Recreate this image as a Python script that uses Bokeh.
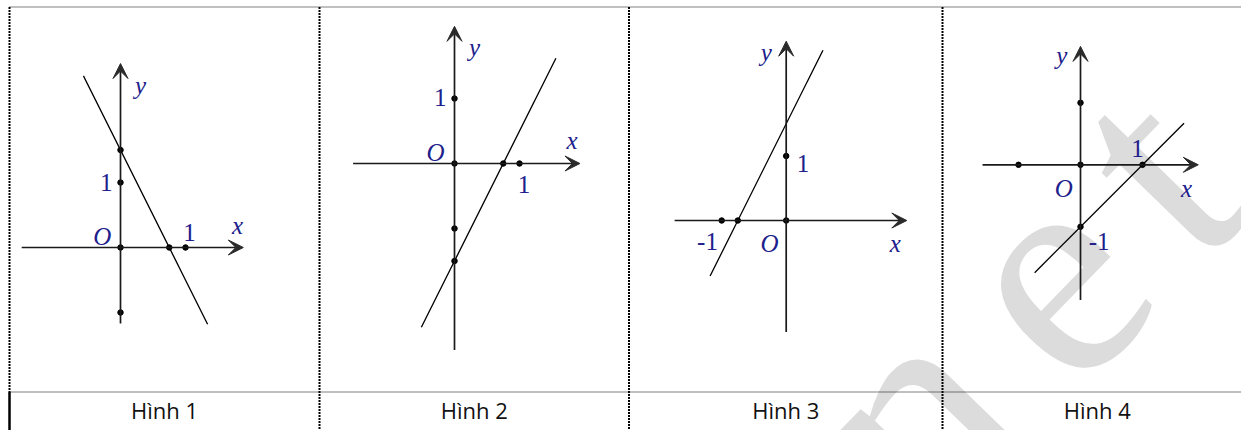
import numpy as np
from bokeh.plotting import figure
from bokeh.models import Range1d, ColumnDataSource, Arrow, VeeHead
from bokeh.core.properties import value
from bokeh.embed import file_html
from bokeh.resources import INLINE

# ---------------- data (math values) ----------------
captions = ["Hình 1", "Hình 2", "Hình 3", "Hình 4"]

slopes = [-2.0, 2.0, 2.0, 1.0]
intercepts = [1.5, -1.5, 1.5, -1.0]
line_x_from = [-0.57, -0.51, -1.18, -0.74]
line_x_to = [1.34, 1.56, 0.57, 1.67]

axis_x_min = [-1.52, -1.56, -1.73, -1.58]
axis_x_max = [1.89, 1.93, 1.87, 1.90]
axis_y_min = [-1.17, -2.87, -1.73, -2.18]
axis_y_max = [2.83, 2.11, 2.78, 1.91]

dots_x = [[0, 0, 0, 0, 0.75, 1], [0, 0, 0, 0, 0.75, 1], [0, 0, -1, -0.75], [0, 0, -1, 1, 0]]
dots_y = [[0, 1, 1.5, -1, 0, 0], [0, 1, -1, -1.5, 0, 0], [0, 1, 0, 0], [0, 1, 0, 0, -1]]

letter_labels = [
    [("y", 0.31, 2.49), ("x", 1.80, 0.34), ("O", -0.28, 0.17)],
    [("y", 0.31, 1.79), ("x", 1.81, 0.35), ("O", -0.29, 0.17)],
    [("y", -0.31, 2.61), ("x", 1.69, -0.36), ("O", -0.26, -0.35)],
    [("y", -0.30, 1.76), ("x", 1.71, -0.38), ("O", -0.27, -0.38)],
]
number_labels = [
    [("1", -0.22, 1.0), ("1", 1.06, 0.23)],
    [("1", -0.22, 1.02), ("1", 1.07, -0.32)],
    [("1", 0.26, 0.88), ("-1", -1.22, -0.32)],
    [("1", 0.92, 0.26), ("-1", 0.30, -1.23)],
]

# watermark letters (page pixels)
wm_letters = ["n", "e", "t"]
wm_x = [962, 1048, 1152]
wm_y = [358, 277, 166]
wm_align = ["right", "center", "center"]

# ---------------- layout (page pixels) ----------------
W, H = 1241, 430
origins_px = [(120, 247), (454, 163), (785.7, 220), (1080, 164.3)]
units_px = [65, 65, 64.5, 62]
cell_edges = [9, 319, 628.5, 942, 1251.5]
caption_y = 409
divider_y = 391.5
top_y = 6.5

LABEL_COLOR = "#20208c"

p = figure(width=W, height=H, output_backend="svg", toolbar_location=None,
           x_range=Range1d(0, W), y_range=Range1d(H, 0),
           x_axis_type=None, y_axis_type=None, min_border=0,
           outline_line_color=None, background_fill_color="white")

# watermark
p.text(x=wm_x, y=wm_y, text=wm_letters, angle=0.8, text_align=wm_align,
       text_font=value("Liberation Serif"), text_font_size="310px",
       text_color="#dcdcdc", text_baseline="middle")

# table borders
vx = cell_edges[1:4]
p.segment(x0=vx, y0=[top_y] * len(vx), x1=vx, y1=[H] * len(vx),
          line_color="#000000", line_width=2, line_dash="2 1")
p.segment(x0=[cell_edges[0]], y0=[top_y], x1=[cell_edges[0]], y1=[divider_y],
          line_color="#000000", line_width=2, line_dash="2 1")
p.segment(x0=[cell_edges[0]], y0=[divider_y], x1=[cell_edges[0]], y1=[H],
          line_color="#000000", line_width=2.5)
p.segment(x0=[cell_edges[0], cell_edges[0]], y0=[top_y, divider_y],
          x1=[W, W], y1=[top_y, divider_y],
          line_color="#000000", line_width=1, line_dash="1 1")

cap_x = [(cell_edges[i] + cell_edges[i + 1]) / 2 for i in range(4)]
p.text(x=cap_x, y=[caption_y] * 4, text=captions,
       text_font=value("Open Sans"), text_font_size="22px", text_color="#111111",
       text_align="center", text_baseline="middle")

for i in range(4):
    ox, oy = origins_px[i]
    u = units_px[i]
    xn, yn = f"x{i}", f"y{i}"
    p.extra_x_ranges[xn] = Range1d((0 - ox) / u, (W - ox) / u)
    p.extra_y_ranges[yn] = Range1d((oy - H) / u, (oy - 0) / u)

    axes_src = ColumnDataSource(dict(
        xs=[axis_x_min[i], 0], ys=[0, axis_y_min[i]],
        xe=[axis_x_max[i], 0], ye=[0, axis_y_max[i]]))
    p.add_layout(Arrow(end=VeeHead(size=15, fill_color="#2a2a2a", line_color="#2a2a2a", line_width=1),
                       x_start="xs", y_start="ys", x_end="xe", y_end="ye",
                       source=axes_src, line_color="#1a1a1a", line_width=1.7,
                       x_range_name=xn, y_range_name=yn))

    lx = np.array([line_x_from[i], line_x_to[i]])
    ly = slopes[i] * lx + intercepts[i]
    p.line(lx, ly, line_color="black", line_width=1.3, x_range_name=xn, y_range_name=yn)

    p.scatter(dots_x[i], dots_y[i], size=5.5, color="black", x_range_name=xn, y_range_name=yn)

    lt = letter_labels[i]
    p.text(x=[t[1] for t in lt], y=[t[2] for t in lt], text=[t[0] for t in lt],
           text_font=value("Liberation Serif"), text_font_style="italic",
           text_font_size="25px", text_color=LABEL_COLOR,
           text_align="center", text_baseline="middle", x_range_name=xn, y_range_name=yn)
    nl = number_labels[i]
    p.text(x=[t[1] for t in nl], y=[t[2] for t in nl], text=[t[0] for t in nl],
           text_font=value("Liberation Serif"),
           text_font_size="25px", text_color=LABEL_COLOR,
           text_align="center", text_baseline="middle", x_range_name=xn, y_range_name=yn)

open("out.html", "w").write(file_html(p, INLINE))
